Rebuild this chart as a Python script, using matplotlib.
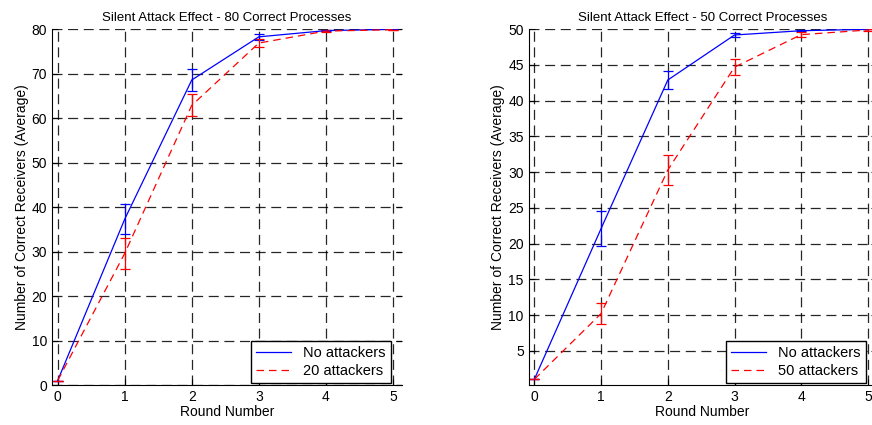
import numpy as np
import matplotlib
matplotlib.use("Agg")
import matplotlib.pyplot as plt
from matplotlib.lines import Line2D

plt.rcParams['font.family'] = ['Liberation Sans', 'DejaVu Sans']

rounds = [0, 1, 2, 3, 4, 5]

# 80 correct processes
no_att_80 = [1, 37.3, 68.6, 78.3, 79.7, 80.0]
no_att_80_err = [0, 3.4, 2.5, 0.7, 0.1, 0]
att20_80 = [1, 29.6, 62.9, 76.9, 79.6, 79.9]
att20_80_err = [0, 3.4, 2.5, 0.9, 0.2, 0]

# 50 correct processes
no_att_50 = [1, 22.1, 42.9, 49.2, 49.8, 50.0]
no_att_50_err = [0, 2.5, 1.3, 0.3, 0.1, 0]
att50_50 = [1, 10.2, 30.3, 44.7, 49.25, 49.9]
att50_50_err = [0, 1.5, 2.1, 1.1, 0.35, 0.1]

fig = plt.figure(figsize=(8.72, 4.25), dpi=100)
red_ls = (0, (6, 4))


def panel(rect, blue, blue_err, red, red_err, red_label, title, ylim, yticks):
    ax = fig.add_axes(rect)
    ax.errorbar(rounds, blue, yerr=blue_err, color='blue', lw=0.9,
                capsize=3.5, elinewidth=0.9, capthick=0.9)
    ax.errorbar(rounds, red, yerr=red_err, color='red', lw=0.9, ls=red_ls,
                capsize=3.5, elinewidth=0.9, capthick=0.9)
    ax.set_xlim(-0.085, 5.13)
    ax.set_ylim(*ylim)
    ax.set_xticks(rounds)
    ax.set_yticks(yticks)
    ax.grid(True, color='black', ls=(0, (8, 4.5)), lw=0.9, alpha=0.85)
    for s in ['top', 'right']:
        ax.spines[s].set_visible(False)
    ax.tick_params(direction='in', labelsize=10, length=4, right=True, top=False)
    ax.set_title(title, fontsize=9.5)
    ax.set_xlabel('Round Number', fontsize=10, labelpad=1)
    ax.set_ylabel('Number of Correct Receivers (Average)', fontsize=10, labelpad=2)
    handles = [Line2D([], [], color='blue', lw=0.9),
               Line2D([], [], color='red', lw=0.9, ls=red_ls)]
    leg = ax.legend(handles, ['No attackers', red_label], loc='lower right',
                    fontsize=10.5, fancybox=False, framealpha=1,
                    borderaxespad=0.15, handlelength=2.4, labelspacing=0.25,
                    borderpad=0.35, bbox_to_anchor=(0.975, 0.0))
    leg.get_frame().set_edgecolor('black')
    leg.get_frame().set_linewidth(1.0)
    return ax


panel([0.0596, 0.0941, 0.401, 0.837], no_att_80, no_att_80_err, att20_80, att20_80_err,
      '20 attackers', 'Silent Attack Effect - 80 Correct Processes', (0, 80),
      np.arange(0, 81, 10))
panel([0.6063, 0.0941, 0.399, 0.837], no_att_50, no_att_50_err, att50_50, att50_50_err,
      '50 attackers', 'Silent Attack Effect - 50 Correct Processes', (0.2, 50),
      np.arange(5, 51, 5))

fig.savefig('out.png', dpi=100)
